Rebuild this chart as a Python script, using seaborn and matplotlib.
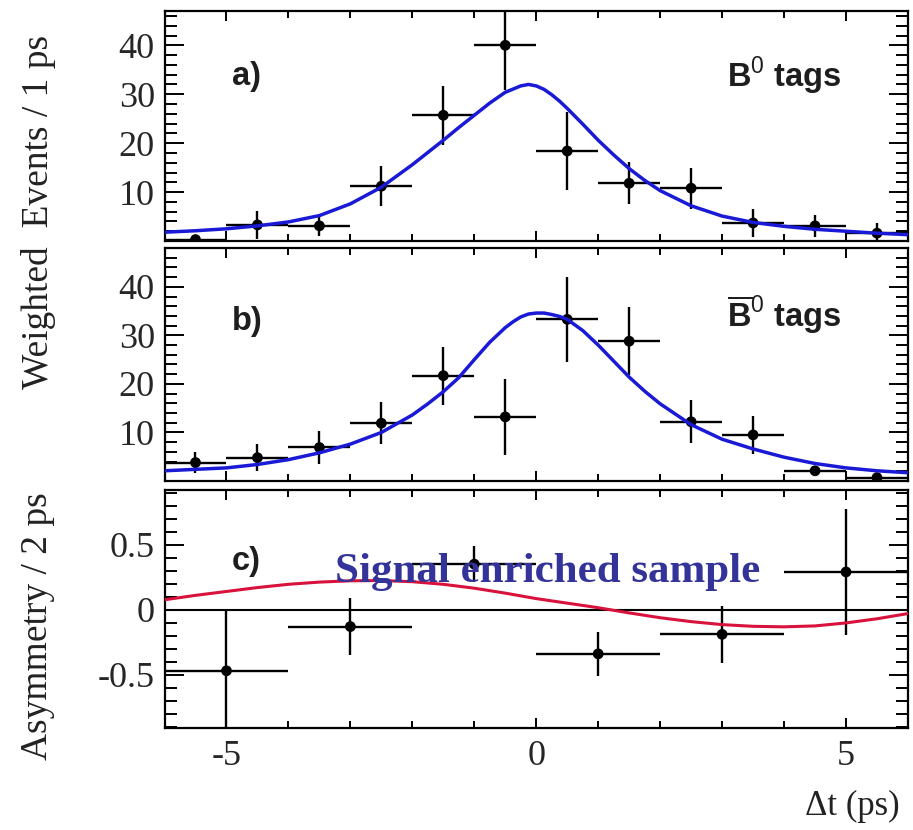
import numpy as np
import pandas as pd
import matplotlib
matplotlib.use("Agg")
import matplotlib.pyplot as plt
import seaborn as sns
from matplotlib.ticker import MultipleLocator, FixedLocator, FixedFormatter

# ---------------- data ----------------
bin_centers = [-5.5, -4.5, -3.5, -2.5, -1.5, -0.5, 0.5, 1.5, 2.5, 3.5, 4.5, 5.5]
b0_counts = [0.3, 3.3, 3.1, 11.2, 25.7, 40.0, 18.4, 11.8, 10.8, 3.7, 3.1, 1.6]
b0_err = [0.8, 2.9, 2.1, 4.1, 6.0, 9.2, 8.0, 4.3, 4.2, 2.9, 2.2, 2.0]
b0bar_counts = [3.8, 4.8, 6.9, 11.9, 21.7, 13.2, 33.3, 28.8, 12.2, 9.5, 2.1, 0.7]
b0bar_err = [2.2, 2.8, 3.3, 4.3, 6.0, 7.8, 8.8, 7.0, 4.4, 3.9, 1.0, 0.8]

fit_t_a = [-6, -5.5, -5, -4.5, -4, -3.5, -3, -2.5, -2, -1.75, -1.5, -1.25, -1, -0.75,
           -0.5, -0.25, -0.125, 0, 0.125, 0.25, 0.375, 0.5, 0.75, 1, 1.25, 1.5, 1.75,
           2, 2.5, 3, 3.5, 4, 4.5, 5, 5.5, 6]
fit_b0 = [1.8, 2.1, 2.5, 3.1, 3.9, 5.2, 7.6, 11.0, 15.6, 18.1, 20.6, 23.2, 25.7, 28.2,
          30.4, 31.7, 32.0, 31.7, 31.0, 29.9, 28.6, 27.1, 23.9, 20.6, 17.6, 14.8, 12.4,
          10.3, 7.2, 5.1, 3.8, 3.0, 2.4, 2.0, 1.6, 1.3]

fit_t_b = [-6, -5.5, -5, -4.5, -4, -3.5, -3, -2.5, -2, -1.75, -1.5, -1.25, -1, -0.75,
           -0.5, -0.375, -0.25, -0.125, 0, 0.125, 0.25, 0.375, 0.5, 0.75, 1, 1.25,
           1.5, 1.75, 2, 2.5, 3, 3.5, 4, 4.5, 5, 5.5, 6]
fit_b0bar = [2.1, 2.4, 2.7, 3.4, 4.4, 5.8, 7.6, 10.0, 13.6, 15.9, 18.4, 21.3, 25.0, 28.6,
             31.6, 32.8, 33.8, 34.4, 34.6, 34.6, 34.3, 33.9, 33.3, 31.0, 28.0, 24.7,
             21.4, 18.5, 15.9, 11.6, 8.6, 6.6, 4.9, 3.6, 2.7, 2.1, 1.7]

asym_t = [-5, -3, -1, 1, 3, 5]
asym_vals = [-0.47, -0.13, 0.35, -0.34, -0.19, 0.29]
asym_err = [0.47, 0.22, 0.14, 0.17, 0.22, 0.485]

fit_t_c = [-6, -5.5, -5, -4.5, -4, -3.5, -3, -2.5, -2, -1.5, -1, -0.5, 0, 0.5, 1,
           1.5, 2, 2.5, 3, 3.5, 4, 4.5, 5, 5.5, 6]
fit_asym = [0.076, 0.11, 0.14, 0.17, 0.195, 0.212, 0.222, 0.224, 0.215, 0.195, 0.165,
            0.127, 0.085, 0.05, 0.015, -0.025, -0.062, -0.092, -0.115, -0.128, -0.132,
            -0.125, -0.102, -0.07, -0.03]

ytick_ab = [10, 20, 30, 40]
ytick_c = [-0.5, 0, 0.5]
ytick_c_labels = ["-0.5", "0", "0.5"]
xtick_major = [-5, 0, 5]
xtick_labels = ["-5", "0", "5"]

# ---------------- style ----------------
sns.set_theme(style="ticks")
plt.rcParams["font.family"] = ["Liberation Serif", "DejaVu Serif"]
plt.rcParams["axes.unicode_minus"] = False
plt.rcParams["mathtext.fontset"] = "custom"
plt.rcParams["mathtext.rm"] = "Liberation Sans"
plt.rcParams["mathtext.bf"] = "Liberation Sans:bold"

fig = plt.figure(figsize=(9.13, 8.3), dpi=100)
fig.patch.set_facecolor("white")
L, W = 0.1802, 0.8143
ax_a = fig.add_axes([L, 0.7096, W, 0.2771])
ax_b = fig.add_axes([L, 0.4205, W, 0.2807])
ax_c = fig.add_axes([L, 0.1229, W, 0.2867])

blue = "#1a1ad6"
red = "#d8123c"
txt_col = "#1e1e1e"


def style_axis(ax):
    ax.set_facecolor("white")
    ax.set_xlim(-6, 6)
    for s in ax.spines.values():
        s.set_linewidth(1.6)
        s.set_color("black")
        s.set_visible(True)
    ax.xaxis.set_major_locator(FixedLocator(xtick_major))
    ax.xaxis.set_minor_locator(MultipleLocator(1))
    ax.tick_params(which="both", direction="in", top=True, right=True,
                   bottom=True, left=True, color="black", width=1.4)
    ax.tick_params(axis="y", which="major", length=14, pad=7, labelsize=26)
    ax.tick_params(axis="y", which="minor", length=8.5)
    ax.tick_params(axis="x", which="major", length=7.5, pad=9, labelsize=26)
    ax.tick_params(axis="x", which="minor", length=5)
    ax.set_xlabel("")
    ax.set_ylabel("")


def draw_points(ax, x, y, yerr, xerr):
    df = pd.DataFrame({"x": x, "y": y})
    ax.errorbar(x, y, xerr=xerr, yerr=yerr, fmt="none", ecolor="black",
                elinewidth=1.7, capsize=0, zorder=3)
    sns.scatterplot(data=df, x="x", y="y", ax=ax, color="black", s=60,
                    edgecolor="none", zorder=4, legend=False)


# panel a
draw_points(ax_a, bin_centers, b0_counts, b0_err, 0.5)
sns.lineplot(x=fit_t_a, y=fit_b0, ax=ax_a, color=blue, lw=2.5, zorder=5,
             estimator=None)
style_axis(ax_a)
ax_a.set_ylim(0, 47)
ax_a.yaxis.set_major_locator(FixedLocator(ytick_ab))
ax_a.yaxis.set_minor_locator(MultipleLocator(2))
ax_a.set_xticklabels([])

# panel b
draw_points(ax_b, bin_centers, b0bar_counts, b0bar_err, 0.5)
sns.lineplot(x=fit_t_b, y=fit_b0bar, ax=ax_b, color=blue, lw=2.5, zorder=5,
             estimator=None)
style_axis(ax_b)
ax_b.set_ylim(0, 48)
ax_b.yaxis.set_major_locator(FixedLocator(ytick_ab))
ax_b.yaxis.set_minor_locator(MultipleLocator(2))
ax_b.set_xticklabels([])

# panel c
ax_c.axhline(0, color="black", lw=1.5, zorder=2)
draw_points(ax_c, asym_t, asym_vals, asym_err, 1.0)
sns.lineplot(x=fit_t_c, y=fit_asym, ax=ax_c, color=red, lw=2.2, zorder=5,
             estimator=None)
style_axis(ax_c)
ax_c.set_ylim(-0.91, 0.92)
ax_c.yaxis.set_major_locator(FixedLocator(ytick_c))
ax_c.yaxis.set_major_formatter(FixedFormatter(ytick_c_labels))
ax_c.yaxis.set_minor_locator(MultipleLocator(0.1))
ax_c.xaxis.set_major_formatter(FixedFormatter(xtick_labels))

# annotations
sans = dict(family=["Liberation Sans", "DejaVu Sans"], weight="bold",
            color=txt_col, fontsize=23.5, va="baseline", ha="left")
ax_a.text(0.0908, 0.678, "a)", transform=ax_a.transAxes, **sans)
ax_a.text(0.7566, 0.670, r"$\mathbf{B}^{0}$ tags", transform=ax_a.transAxes, **sans)
ax_b.text(0.0908, 0.648, "b)", transform=ax_b.transAxes, **sans)
ax_b.text(0.7566, 0.661, r"$\overline{\mathbf{B}}^{0}$ tags", transform=ax_b.transAxes, **sans)
ax_c.text(0.0908, 0.664, "c)", transform=ax_c.transAxes, **sans)
ax_c.text(0.229, 0.613, "Signal enriched sample", transform=ax_c.transAxes,
          family=["Liberation Serif", "DejaVu Serif"], weight="bold",
          color="#333399", fontsize=31, va="baseline", ha="left", zorder=6)

# axis titles
fig.text(38 / 913, 1 - 212 / 830, "Weighted  Events / 1 ps", rotation=90,
         ha="center", va="center", fontsize=27, color="#222222")
fig.text(38 / 913, 1 - 626 / 830, "Asymmetry / 2 ps", rotation=90,
         ha="center", va="center", fontsize=27, color="#222222")
fig.text(852 / 913, 1 - 806 / 830, "\u0394t (ps)", ha="center", va="center",
         fontsize=25, color="#222222")

fig.savefig("out.png", dpi=100, facecolor="white")
